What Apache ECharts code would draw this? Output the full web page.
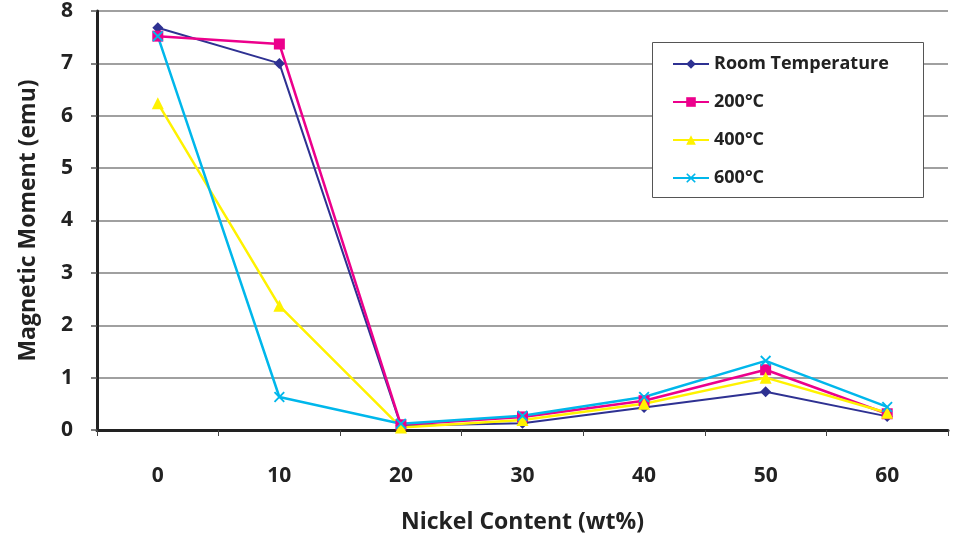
<!DOCTYPE html>
<html><head><meta charset="utf-8">
<script src="https://cdn.jsdelivr.net/npm/echarts@6/dist/echarts.min.js"></script>
<style>html,body{margin:0;padding:0;background:#fff}#c{width:956px;height:539px}</style>
</head><body><div id="c"></div>
<script>
const categories = ['0','10','20','30','40','50','60'];
const roomTemp = [7.68, 7.0, 0.08, 0.13, 0.43, 0.73, 0.26];
const t200 = [7.52, 7.37, 0.10, 0.25, 0.56, 1.15, 0.31];
const t400 = [6.24, 2.37, 0.05, 0.19, 0.50, 1.00, 0.33];
const t600 = [7.52, 0.63, 0.12, 0.27, 0.63, 1.32, 0.44];
const seriesNames = ['Room Temperature','200°C','400°C','600°C'];

const FONT = 'Open Sans';
const xShape = 'path://M0,1.2L1.2,0L5,3.8L8.8,0L10,1.2L6.2,5L10,8.8L8.8,10L5,6.2L1.2,10L0,8.8L3.8,5Z';
const chart = echarts.init(document.getElementById('c'));
function mk(name, data, color, symbol, size, width) {
  return {name, type:'line', data, symbol, symbolSize:size, showSymbol:true,
    lineStyle:{color, width}, itemStyle:{color, borderWidth:0}, z:3, animation:false};
}
chart.setOption({
  animation:false,
  textStyle:{fontFamily:FONT},
  grid:{left:97, right:8, top:11, bottom:109},
  graphic:[{type:'rect', left:652, top:42, z:3,
    shape:{width:271, height:155},
    style:{fill:'#fff', stroke:'#555', lineWidth:1}}],
  legend:{orient:'vertical', left:667, top:50, z:6, itemWidth:36, itemHeight:12, itemGap:20,
    data:seriesNames,
    textStyle:{fontFamily:FONT, fontWeight:'bold', fontSize:18, color:'#222'}},
  xAxis:{type:'category', data:categories, boundaryGap:true,
    name:'Nickel Content (wt%)', nameLocation:'middle', nameGap:81,
    nameTextStyle:{fontFamily:FONT, fontWeight:'bold', fontSize:23, color:'#222'},
    axisLine:{lineStyle:{color:'#222', width:3}},
    axisTick:{show:true, length:6, lineStyle:{color:'#444', width:1}},
    axisLabel:{margin:36, fontFamily:FONT, fontWeight:'bold', fontSize:21, color:'#222'}},
  yAxis:{type:'value', min:0, max:8, interval:1,
    name:'Magnetic Moment (emu)', nameLocation:'middle', nameGap:57,
    nameTextStyle:{fontFamily:FONT, fontWeight:'bold', fontSize:23, color:'#222'},
    axisLine:{show:true, lineStyle:{color:'#222', width:3}},
    axisTick:{show:true, length:6, lineStyle:{color:'#555', width:1.5}},
    axisLabel:{margin:24, fontFamily:FONT, fontWeight:'bold', fontSize:21, color:'#222'},
    splitLine:{lineStyle:{color:'#808080', width:1.5}}},
  series:[
    mk(seriesNames[0], roomTemp, '#2e3192', 'diamond', 11, 2),
    mk(seriesNames[1], t200, '#ec008c', 'rect', 11, 2.5),
    mk(seriesNames[2], t400, '#fff200', 'triangle', 12, 2.5),
    mk(seriesNames[3], t600, '#00b7eb', xShape, 11, 2.5)
  ]
});
</script></body></html>
